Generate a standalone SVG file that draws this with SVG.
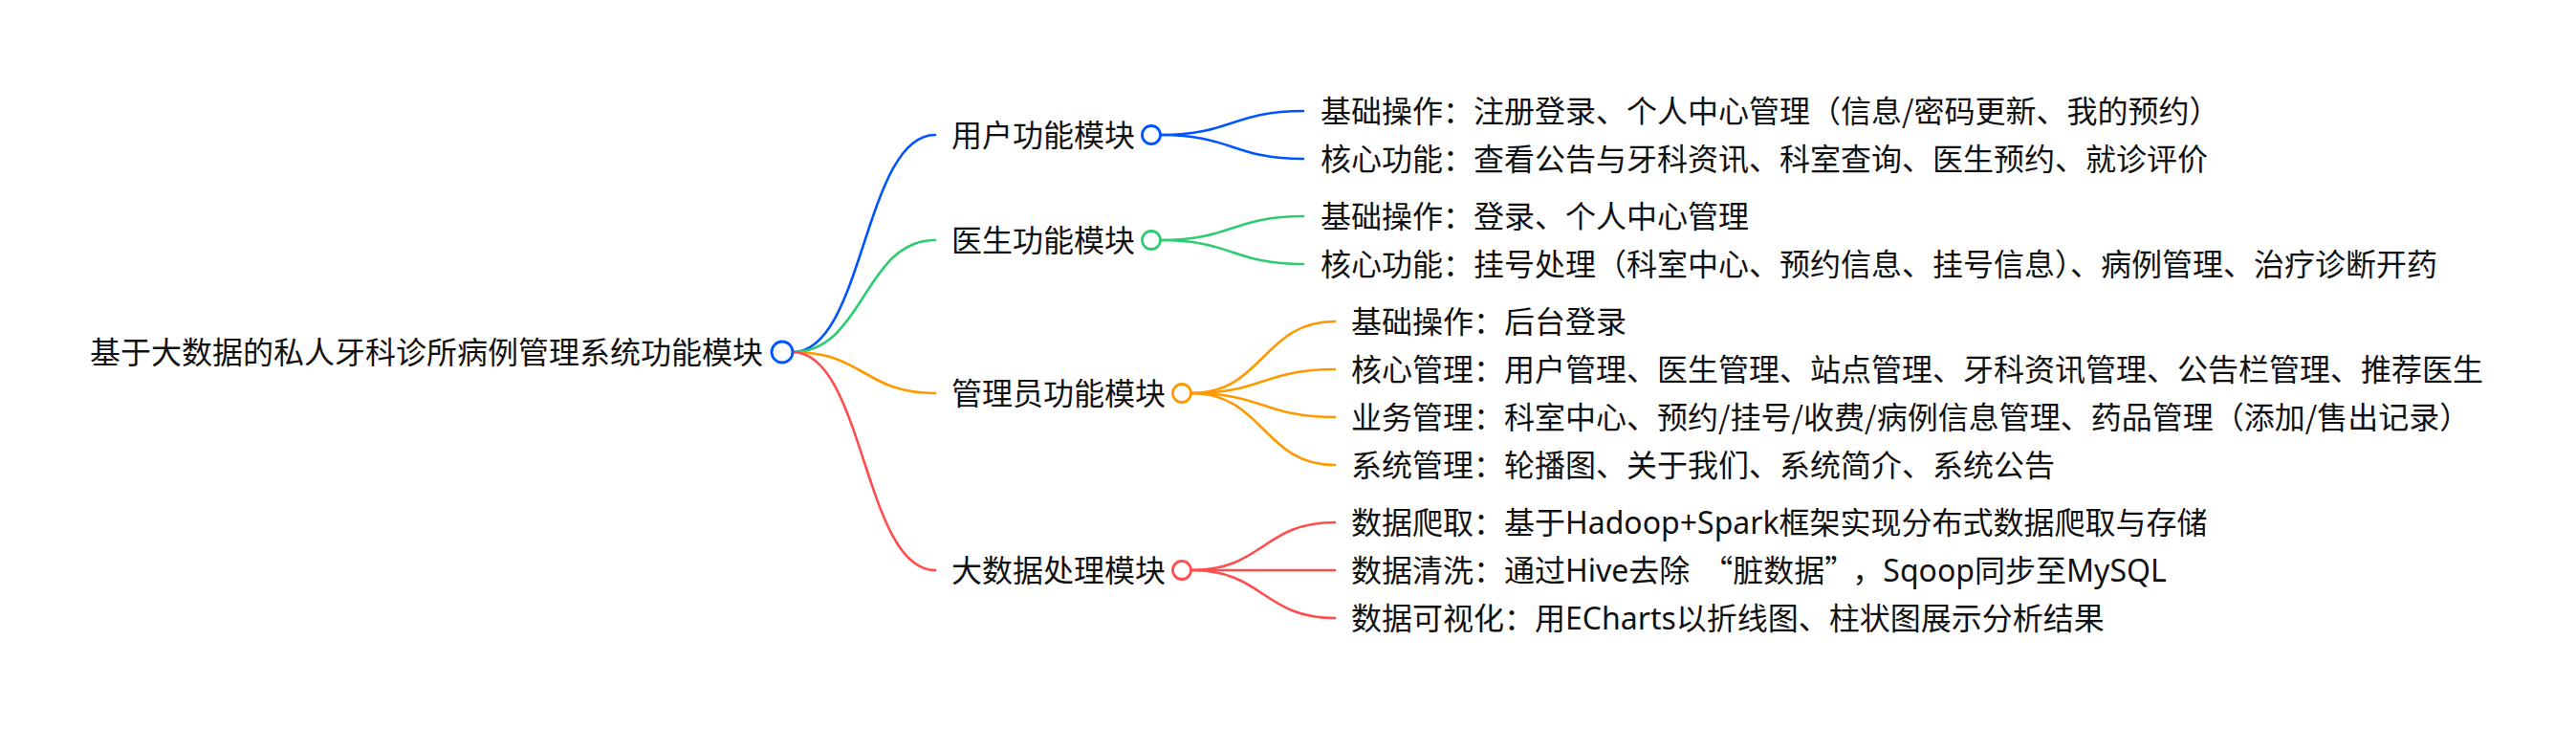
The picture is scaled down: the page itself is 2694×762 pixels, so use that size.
<svg xmlns="http://www.w3.org/2000/svg" width="2694" height="762" viewBox="0 0 2694 762">
<style>
text{font-family:"Noto Sans CJK SC","Noto Sans",sans-serif;font-size:32px;fill:#111;}
.lat{font-family:"Noto Sans","Noto Sans CJK SC",sans-serif;}
.ln{fill:none;stroke-width:2.6;stroke-linecap:round;}
.dot{fill:#fff;stroke-width:2.8;}
.b{stroke:#0055ff;} .g{stroke:#2ecc71;} .o{stroke:#ff9900;} .r{stroke:#ff4d4f;}
</style>
<rect width="2694" height="762" fill="#fff"/>
<g id="connectors">
<path class="ln b" d="M829,368 C903.5,368 903.5,141 978,141"/>
<path class="ln g" d="M829,368 C903.5,368 903.5,251 978,251"/>
<path class="ln o" d="M829,368 C903.5,368 903.5,411 978,411"/>
<path class="ln r" d="M829,368 C903.5,368 903.5,596 978,596"/>
<path class="ln b" d="M1214,141 C1288.5,141 1288.5,116 1363,116"/>
<path class="ln b" d="M1214,141 C1288.5,141 1288.5,166 1363,166"/>
<path class="ln g" d="M1214,251 C1288.5,251 1288.5,226 1363,226"/>
<path class="ln g" d="M1214,251 C1288.5,251 1288.5,276 1363,276"/>
<path class="ln o" d="M1246,411 C1321,411 1321,336 1396,336"/>
<path class="ln o" d="M1246,411 C1321,411 1321,386 1396,386"/>
<path class="ln o" d="M1246,411 C1321,411 1321,436 1396,436"/>
<path class="ln o" d="M1246,411 C1321,411 1321,486 1396,486"/>
<path class="ln r" d="M1246,596 C1321,596 1321,546 1396,546"/>
<path class="ln r" d="M1246,596 C1321,596 1321,596 1396,596"/>
<path class="ln r" d="M1246,596 C1321,596 1321,646 1396,646"/>
</g>
<g id="root">
<text x="94" y="380">基于大数据的私人牙科诊所病例管理系统功能模块</text>
<circle class="dot b" cx="818" cy="368" r="11"/>
</g>
<g id="user">
<text x="995" y="153">用户功能模块</text>
<circle class="dot b" cx="1204" cy="141" r="9.5"/>
</g>
<g id="doctor">
<text x="995" y="263">医生功能模块</text>
<circle class="dot g" cx="1204" cy="251" r="9.5"/>
</g>
<g id="admin">
<text x="995" y="423">管理员功能模块</text>
<circle class="dot o" cx="1236" cy="411" r="9.5"/>
</g>
<g id="bigdata">
<text x="995" y="608">大数据处理模块</text>
<circle class="dot r" cx="1236" cy="596" r="9.5"/>
</g>
<g id="user-basic"><text x="1381" y="128">基础操作：注册登录、个人中心管理（信息/密码更新、我的预约）</text></g>
<g id="user-core"><text x="1381" y="178">核心功能：查看公告与牙科资讯、科室查询、医生预约、就诊评价</text></g>
<g id="doctor-basic"><text x="1381" y="238">基础操作：登录、个人中心管理</text></g>
<g id="doctor-core"><text x="1381" y="288">核心功能：挂号处理（科室中心、预约信息、挂号信息）、病例管理、治疗诊断开药</text></g>
<g id="admin-basic"><text x="1413" y="348">基础操作：后台登录</text></g>
<g id="admin-core"><text x="1413" y="398">核心管理：用户管理、医生管理、站点管理、牙科资讯管理、公告栏管理、推荐医生</text></g>
<g id="admin-business"><text x="1413" y="448">业务管理：科室中心、预约/挂号/收费/病例信息管理、药品管理（添加/售出记录）</text></g>
<g id="admin-system"><text x="1413" y="498">系统管理：轮播图、关于我们、系统简介、系统公告</text></g>
<g id="data-crawl"><text x="1413" y="558">数据爬取：基于<tspan class="lat">Hadoop+Spark</tspan>框架实现分布式数据爬取与存储</text></g>
<g id="data-clean"><text x="1413" y="608">数据清洗：通过<tspan class="lat">Hive</tspan>去除<tspan dx="13">“</tspan>脏数据”<tspan dx="13">，</tspan><tspan class="lat">Sqoop</tspan>同步至<tspan class="lat">MySQL</tspan></text></g>
<g id="data-vis"><text x="1413" y="658">数据可视化：用<tspan class="lat">ECharts</tspan>以折线图、柱状图展示分析结果</text></g>
</svg>
